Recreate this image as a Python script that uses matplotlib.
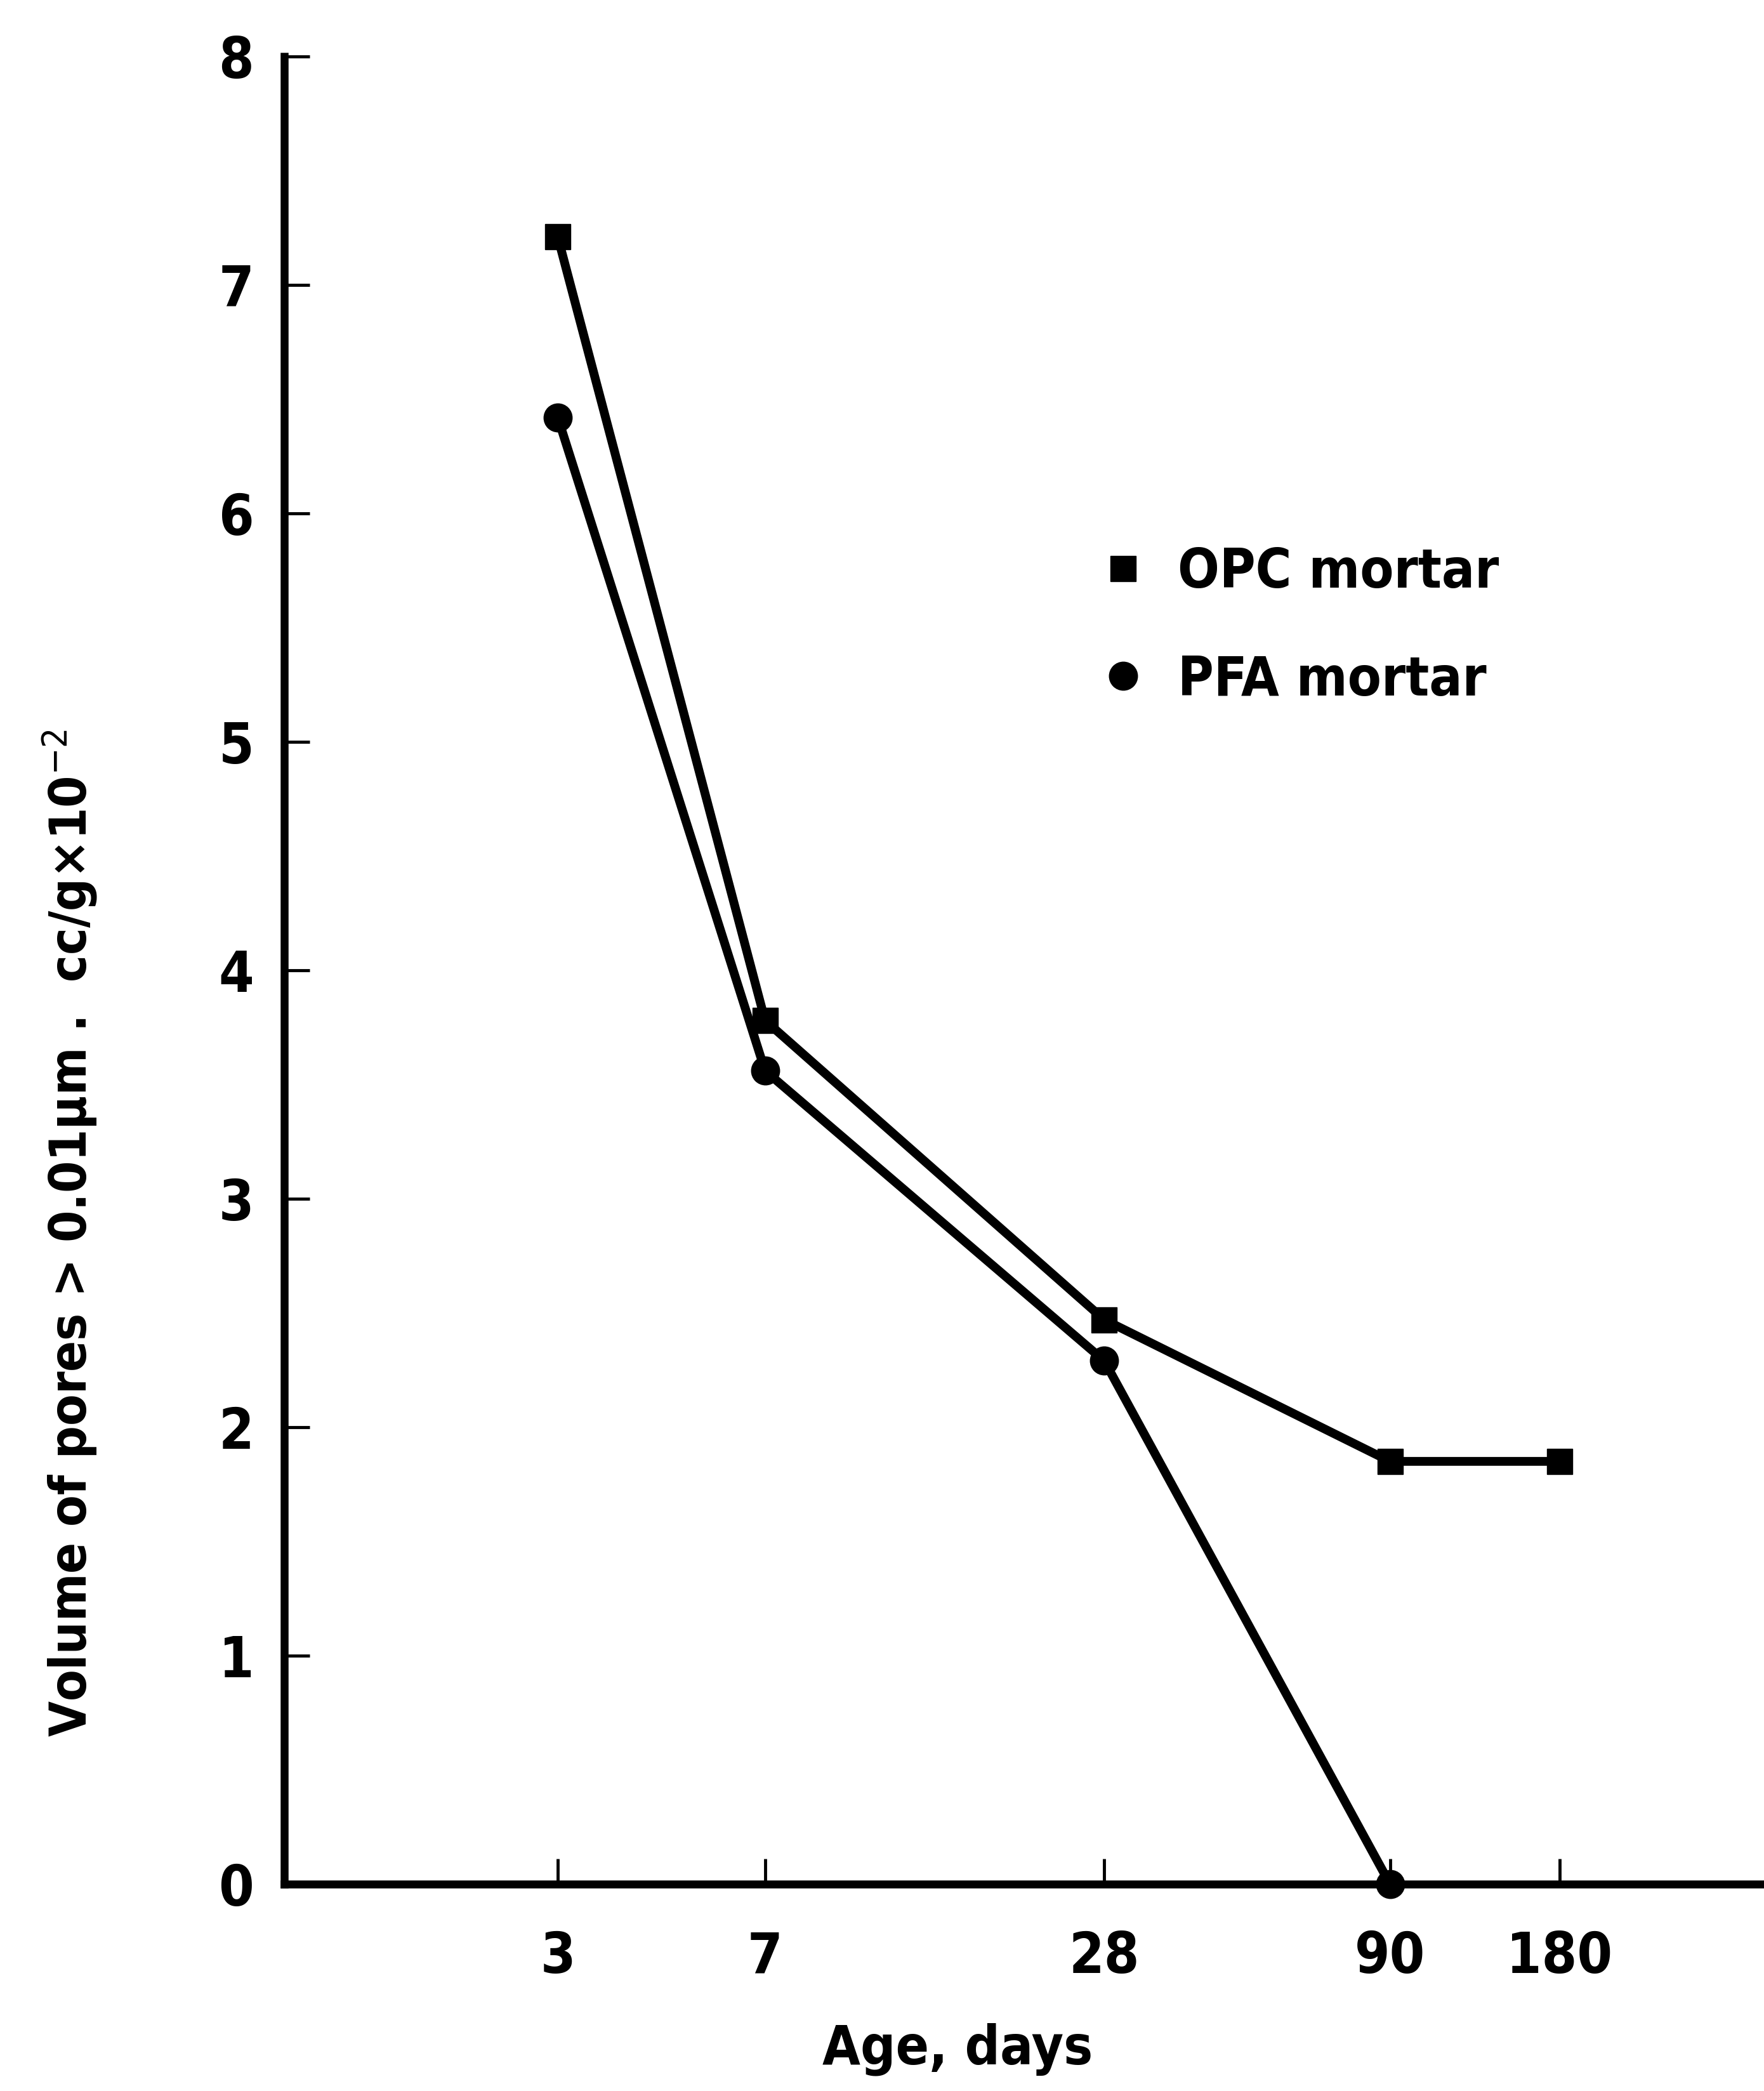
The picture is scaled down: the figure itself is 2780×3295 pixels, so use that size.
import matplotlib
matplotlib.use('Agg')
import matplotlib.pyplot as plt
from matplotlib.lines import Line2D

plt.rcParams['font.family'] = ['DejaVu Sans']
plt.rcParams['font.stretch'] = 'condensed'
plt.rcParams['mathtext.fontset'] = 'dejavusans'

# age in days and pore volume (cc/g x 10^-2)
age_opc = [3, 7, 28, 90, 180]
vol_opc = [7.21, 3.78, 2.47, 1.85, 1.85]

age_pfa = [3, 7, 28, 90]
vol_pfa = [6.42, 3.56, 2.29, 0.0]

xticks = [3, 7, 28, 90, 180]
xtick_labels = ['3', '7', '28', '90', '180']
yticks = [0, 1, 2, 3, 4, 5, 6, 7, 8]

fig = plt.figure(figsize=(27.8, 32.95), dpi=100)
ax = fig.add_axes([0.161, 0.099, 0.839, 0.874])

ax.plot(age_opc, vol_opc, color='black', lw=10, marker='s', ms=29,
        clip_on=False, zorder=3)
ax.plot(age_pfa, vol_pfa, color='black', lw=10, marker='o', ms=32,
        clip_on=False, zorder=3)

ax.set_xscale('log')
ax.set_xlim(0.98, 415)
ax.set_ylim(0, 8)

ax.set_xticks(xticks)
ax.set_xticklabels(xtick_labels)
ax.minorticks_off()
ax.set_yticks(yticks)

for s in ['top', 'right']:
    ax.spines[s].set_visible(False)
for s in ['left', 'bottom']:
    ax.spines[s].set_linewidth(9)

ax.tick_params(axis='both', direction='in', length=29, width=3.5,
               labelsize=64)
ax.tick_params(axis='x', pad=52)
ax.tick_params(axis='y', pad=34)
for lab in ax.get_xticklabels() + ax.get_yticklabels():
    lab.set_fontweight('bold')

ax.set_xlabel('Age, days', fontsize=62, fontweight='bold')
ax.xaxis.set_label_coords(0.455, -0.076)
ax.set_ylabel(r'Volume of pores > 0.01μm .  cc/g×10$^{-2}$', fontsize=58,
              fontweight='bold')
ax.yaxis.set_label_coords(-0.125, 0.356)

handles = [Line2D([], [], ls='none', marker='s', ms=29, color='black'),
           Line2D([], [], ls='none', marker='o', ms=32, color='black')]
leg = ax.legend(handles, ['OPC mortar', 'PFA mortar'], loc='center left',
                bbox_to_anchor=(0.567, 0.688), frameon=False, handlelength=0,
                handletextpad=1.0, labelspacing=1.0, borderpad=0,
                borderaxespad=0, prop={'size': 62, 'weight': 'bold'})

fig.savefig('out.png', dpi=100, facecolor='white')
